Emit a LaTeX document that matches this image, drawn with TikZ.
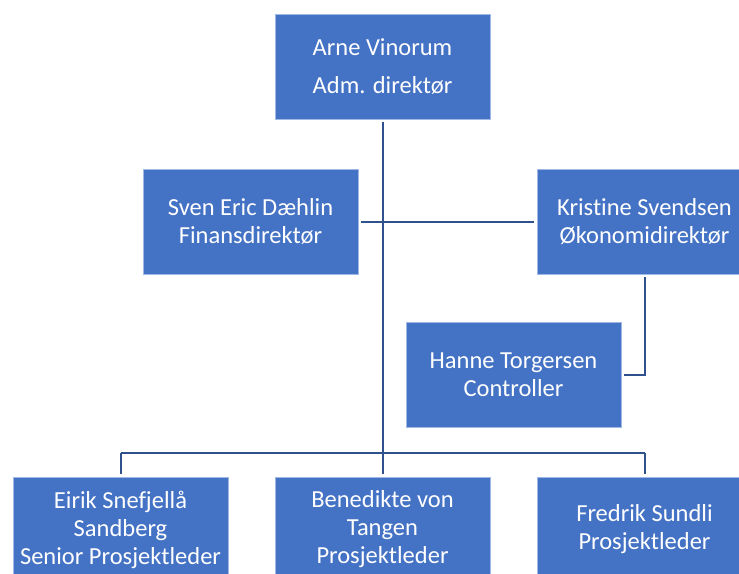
\documentclass[tikz,border=0pt]{standalone}
\usepackage{fontspec}
\setmainfont[Ligatures=NoCommon]{Carlito}
\definecolor{boxblue}{RGB}{68,114,196}
\definecolor{boxedge}{RGB}{160,185,228}
\definecolor{linkblue}{RGB}{47,82,143}

\begin{document}
\begin{tikzpicture}[x=1pt,y=-1pt,
    person/.style={shape=rectangle,fill=boxblue,draw=boxedge,line width=0.7pt,
        minimum width=215pt,minimum height=105pt,align=center,text=white,
        font=\fontsize{24.5}{28}\selectfont,inner sep=0pt},
    link/.style={draw=linkblue,line width=2pt}]
                \useasboundingbox(0,0)rectangle(739,573);
                \clip(0,0)rectangle(739,573);
                \node[person](arne)at(382.5, 66.5){Arne Vinorum\\[10pt]Adm. direktør};
                \node[person](sven)at(250.5, 221.5){Sven Eric Dæhlin\\Finansdirektør};
                \node[person](kristine)at(644.5, 221.5){Kristine Svendsen\\Økonomidirektør};
                \node[person](hanne)at(513.5, 375){Hanne Torgersen\\Controller};
                \node[person](eirik)at(120.5, 529.5){Eirik Snefjellå\\Sandberg\\Senior Prosjektleder};
                \node[person](benedikte)at(382.5, 529.5){Benedikte von\\Tangen\\Prosjektleder};
                \node[person](fredrik)at(644.5, 529.5){Fredrik Sundli\\Prosjektleder};
                \coordinate(bar)at(382.5, 453);
                \path[link,shorten <=3pt](arne.south) edge (bar)
                (sven.east) edge[shorten >=3pt] (kristine.west)
                (eirik.north |- bar) edge[shorten <=0pt] (fredrik.north |- bar);
                \path[link,shorten >=3pt](eirik.north |- bar) edge (eirik.north)
                (bar) edge (benedikte.north)
                (fredrik.north |- bar) edge (fredrik.north);
                \draw[link,shorten <=3pt](kristine.south) |- ([xshift=3pt]hanne.east);
            \end{tikzpicture}
\end{document}
